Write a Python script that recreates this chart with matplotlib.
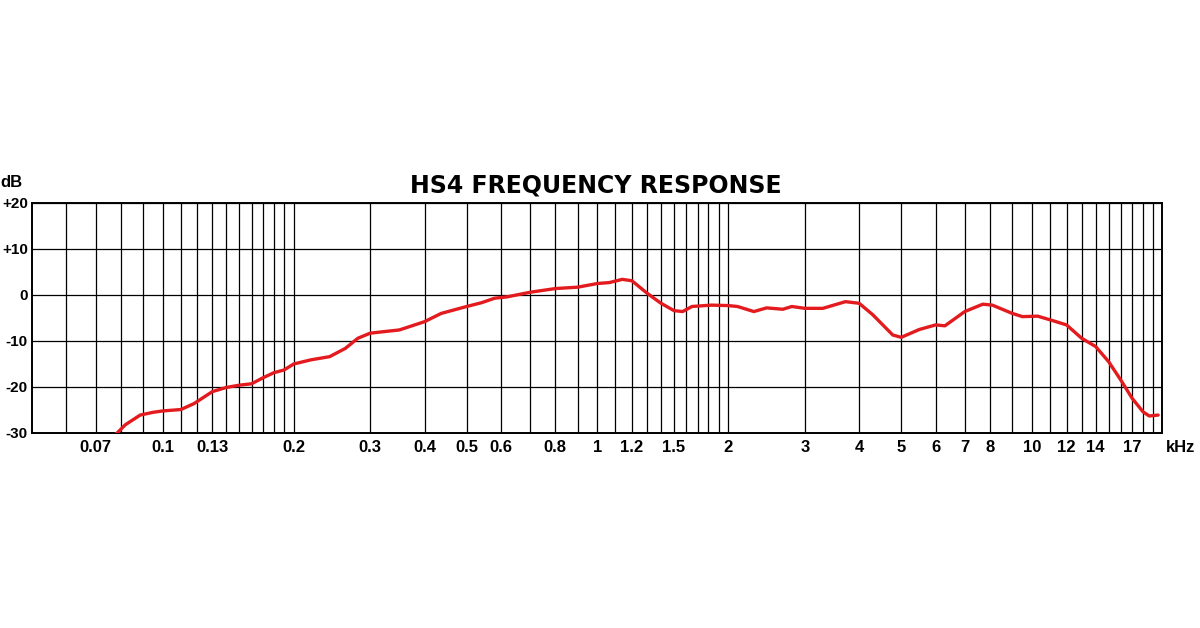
import numpy as np
import matplotlib
matplotlib.use("Agg")
import matplotlib.pyplot as plt

# frequency (kHz) / level (dB)
FREQ_KHZ = [0.075, 0.0785, 0.082, 0.0887, 0.095, 0.1, 0.11, 0.118, 0.13, 0.14,
            0.15, 0.16, 0.17, 0.18, 0.19, 0.2, 0.219, 0.242, 0.263, 0.281,
            0.3, 0.32, 0.35, 0.4, 0.437, 0.5, 0.54, 0.58, 0.62, 0.7,
            0.8, 0.9, 1.0, 1.065, 1.14, 1.2, 1.3, 1.4, 1.5, 1.57,
            1.65, 1.83, 2.0, 2.1, 2.29, 2.45, 2.67, 2.8, 3.0, 3.3,
            3.72, 4.0, 4.3, 4.78, 5.0, 5.5, 6.0, 6.3, 7.0, 7.7,
            8.1, 9.0, 9.5, 10.3, 11.0, 12.0, 13.0, 14.0, 15.0, 16.0,
            17.0, 18.0, 18.6, 19.5]
LEVEL_DB = [-31.5, -30.0, -28.2, -26.1, -25.5, -25.2, -24.9, -23.6, -21.0, -20.1,
            -19.6, -19.3, -18.0, -16.9, -16.3, -15.0, -14.1, -13.4, -11.6, -9.4,
            -8.3, -8.0, -7.6, -5.8, -4.0, -2.5, -1.7, -0.7, -0.4, 0.6,
            1.4, 1.7, 2.5, 2.7, 3.4, 3.1, 0.4, -1.8, -3.4, -3.6,
            -2.5, -2.2, -2.3, -2.5, -3.6, -2.8, -3.1, -2.5, -2.9, -2.9,
            -1.45, -1.8, -4.3, -8.7, -9.2, -7.5, -6.5, -6.7, -3.6, -2.0,
            -2.2, -4.0, -4.7, -4.6, -5.4, -6.5, -9.4, -11.2, -14.5, -18.5,
            -22.5, -25.4, -26.3, -26.1]

GRID_KHZ = ([0.06, 0.07, 0.08, 0.09] + [round(0.1 + 0.01 * i, 2) for i in range(11)]
            + [0.3, 0.4, 0.5, 0.6, 0.7, 0.8, 0.9]
            + [round(1.0 + 0.1 * i, 1) for i in range(11)]
            + list(range(3, 20)))
LABELS = {0.07: "0.07", 0.1: "0.1", 0.13: "0.13", 0.2: "0.2", 0.3: "0.3",
          0.4: "0.4", 0.5: "0.5", 0.6: "0.6", 0.8: "0.8", 1.0: "1", 1.2: "1.2",
          1.5: "1.5", 2.0: "2", 3: "3", 4: "4", 5: "5", 6: "6", 7: "7", 8: "8",
          10: "10", 12: "12", 14: "14", 17: "17"}
DB_TICKS = [-30, -20, -10, 0, 10, 20]
DB_LABELS = ["-30", "-20", "-10", "0", "+10", "+20"]

FAMILY = ["Liberation Sans", "DejaVu Sans"]

fig = plt.figure(figsize=(12, 6.28), dpi=100, facecolor="white")
ax = fig.add_axes([32 / 1200, 1 - 433 / 628, 1130 / 1200, 230 / 628])

ax.set_xscale("log")
ax.set_xlim(0.05, 19.9)
ax.set_ylim(-30, 20)

ax.plot(FREQ_KHZ, LEVEL_DB, color="#e31b1f", lw=2.4, solid_joinstyle="round",
        solid_capstyle="round", zorder=3, clip_on=True)

ax.xaxis.set_minor_locator(matplotlib.ticker.NullLocator())
ax.set_xticks(GRID_KHZ)
ax.set_xticklabels([LABELS.get(g, "") for g in GRID_KHZ], family=FAMILY,
                   fontweight="bold", fontsize=12)
ax.set_yticks(DB_TICKS)
ax.set_yticklabels(DB_LABELS, family=FAMILY, fontweight="bold", fontsize=11)
ax.tick_params(axis="both", length=0, colors="black")
ax.tick_params(axis="x", pad=5)
ax.tick_params(axis="y", pad=3)
ax.grid(True, color="black", lw=0.9)
ax.set_axisbelow(True)
for s in ax.spines.values():
    s.set_linewidth(1.4)

fig.text(0, 1 - 182 / 628, "dB", ha="left", va="center", family=FAMILY,
         fontweight="bold", fontsize=12)
fig.text(1166 / 1200, 1 - 448 / 628, "kHz", ha="left", va="center", family=FAMILY,
         fontweight="bold", fontsize=12)
fig.text(596 / 1200, 1 - 185 / 628, "HS4 FREQUENCY RESPONSE", ha="center", va="center",
         family="DejaVu Sans", fontweight="bold", fontsize=17)

fig.savefig("out.png", dpi=100, facecolor="white")
